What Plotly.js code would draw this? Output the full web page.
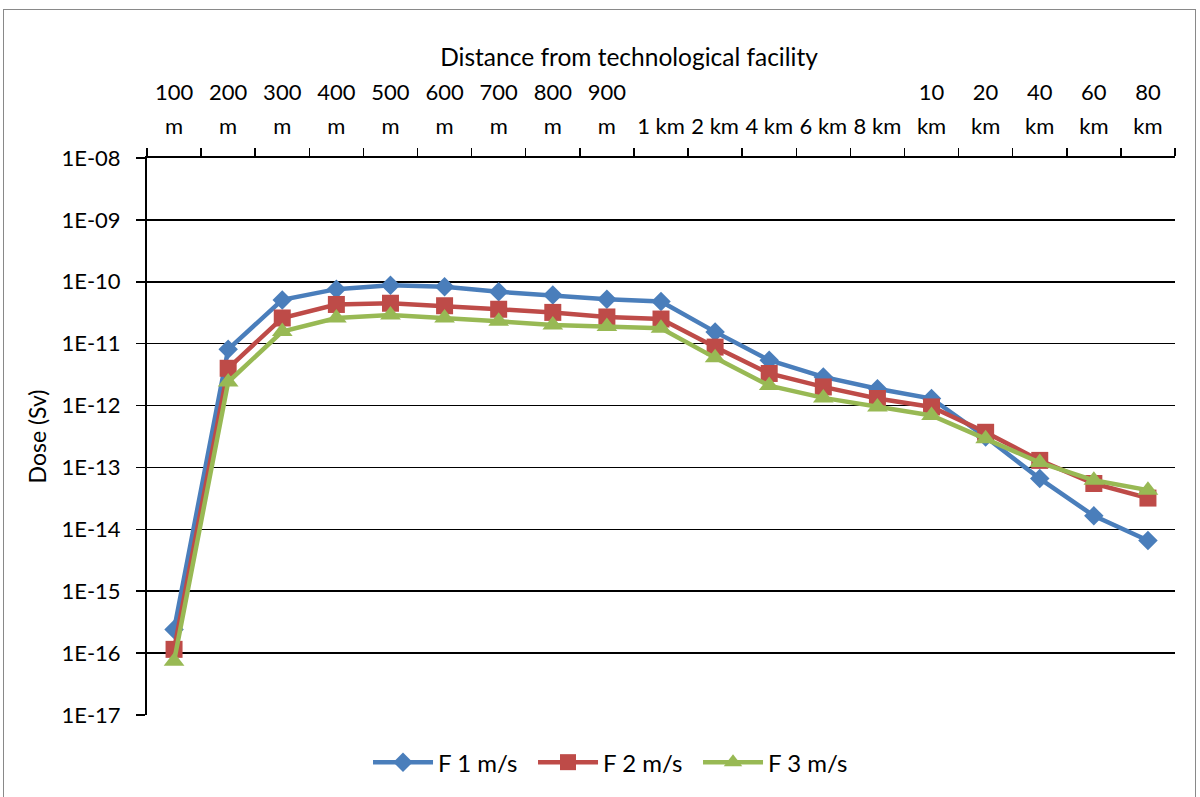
<!DOCTYPE html>
<html>
<head>
<meta charset="utf-8">
<script src="https://cdn.plot.ly/plotly-3.0.1.min.js"></script>
<style>
html,body{margin:0;padding:0;background:#fff;}
#wrap{position:relative;width:1200px;height:797px;}
#frame{position:absolute;left:3px;top:9px;width:1193px;height:800px;border:1px solid #898989;box-sizing:border-box;pointer-events:none;}
#chart{position:absolute;left:0;top:0;width:1200px;height:797px;}
</style>
</head>
<body>
<div id="wrap"><div id="chart"></div><div id="frame"></div></div>
<script>
const categories = ["100 m","200 m","300 m","400 m","500 m","600 m","700 m","800 m","900 m","1 km","2 km","4 km","6 km","8 km","10 km","20 km","40 km","60 km","80 km"];
const tickLine1 = ["100","200","300","400","500","600","700","800","900","","","","","","10","20","40","60","80"];
const tickLine2 = ["m","m","m","m","m","m","m","m","m","1 km","2 km","4 km","6 km","8 km","km","km","km","km","km"];
const f1 = [2.4e-16, 8.1e-12, 5.1e-11, 7.6e-11, 8.8e-11, 8.3e-11, 6.9e-11, 6.1e-11, 5.2e-11, 4.8e-11, 1.55e-11, 5.4e-12, 2.9e-12, 1.87e-12, 1.3e-12, 3.1e-13, 6.6e-14, 1.65e-14, 6.6e-15];
const f2 = [1.15e-16, 4.0e-12, 2.6e-11, 4.3e-11, 4.5e-11, 4.1e-11, 3.6e-11, 3.2e-11, 2.7e-11, 2.5e-11, 8.8e-12, 3.3e-12, 2.0e-12, 1.3e-12, 9.5e-13, 3.7e-13, 1.3e-13, 5.5e-14, 3.2e-14];
const f3 = [7.4e-17, 2.4e-12, 1.57e-11, 2.6e-11, 2.9e-11, 2.6e-11, 2.3e-11, 2.0e-11, 1.9e-11, 1.78e-11, 5.9e-12, 2.1e-12, 1.33e-12, 9.5e-13, 6.9e-13, 2.9e-13, 1.2e-13, 6.2e-14, 4.3e-14];
const seriesNames = ["F 1 m/s","F 2 m/s","F 3 m/s"];
const yTickVals = [1e-17,1e-16,1e-15,1e-14,1e-13,1e-12,1e-11,1e-10,1e-9,1e-8];
const yTickText = ["1E-17","1E-16","1E-15","1E-14","1E-13","1E-12","1E-11","1E-10","1E-09","1E-08"];
const xTitle = "Distance from technological facility";
const yTitle = "Dose (Sv)";

const FONT = "Lato, 'Liberation Sans', sans-serif";
const colors = ["#4A7EBB","#BE4B48","#98B954"];
const symbols = ["diamond","square","triangle-up"];
const sizes = [15,17,18];
const data = [f1,f2,f3].map((ys,i)=>({
  type:"scatter", mode:"lines+markers", name:seriesNames[i],
  x:categories, y:ys,
  line:{color:colors[i], width:4.5},
  marker:{symbol:symbols[i], size:sizes[i], color:colors[i], line:{width:0}}
}));
// invisible helper trace so the second (upper-line) category axis is drawn
data.push({type:"scatter", mode:"markers", x:categories, y:f1, xaxis:"x2", yaxis:"y",
  marker:{opacity:0, size:1}, showlegend:false, hoverinfo:"skip"});

const layout = {
  width:1200, height:797,
  margin:{l:147, r:25, t:158, b:80},
  paper_bgcolor:"rgba(0,0,0,0)", plot_bgcolor:"#fff",
  font:{family:FONT, size:22, color:"#000"},
  title:{text:xTitle, font:{size:24.5, family:FONT, color:"#000"}, xref:"container", yref:"container", x:629/1200, y:1-57/797, xanchor:"center", yanchor:"middle"},
  showlegend:true,
  legend:{orientation:"h", x:0.215, xanchor:"left", y:-0.045, yanchor:"top", font:{size:24, family:FONT}, itemwidth:60, entrywidth:90, entrywidthmode:"pixels"},
  xaxis:{
    type:"category", side:"top", range:[-0.5,18.5],
    categoryorder:"array", categoryarray:categories,
    tickmode:"array", tickvals:categories, ticktext:tickLine2, tickangle:0,
    tickson:"boundaries", ticks:"outside", ticklen:8, tickwidth:1.5, tickcolor:"#000",
    ticklabelstandoff:13,
    showline:true, linecolor:"#000", linewidth:2, showgrid:false, zeroline:false,
    tickfont:{size:22, family:FONT}
  },
  xaxis2:{
    type:"category", side:"top", overlaying:"x", anchor:"y", range:[-0.5,18.5],
    categoryorder:"array", categoryarray:categories,
    tickmode:"array", tickvals:categories, ticktext:tickLine1, tickangle:0,
    ticks:"", ticklabelstandoff:53,
    showline:false, showgrid:false, zeroline:false,
    tickfont:{size:22, family:FONT}
  },
  yaxis:{
    type:"log", range:[-17,-8],
    tickmode:"array", tickvals:yTickVals, ticktext:yTickText,
    ticks:"outside", ticklen:9, tickwidth:1.5, tickcolor:"#000",
    ticklabelstandoff:11,
    showline:true, linecolor:"#000", linewidth:2,
    showgrid:true, gridcolor:"#000", gridwidth:1.5, zeroline:false,
    tickfont:{size:22, family:FONT},
    title:{text:yTitle, font:{size:23, family:FONT}, standoff:8}
  }
};
Plotly.newPlot("chart", data, layout, {displayModeBar:false, staticPlot:true});
</script>
</body>
</html>
